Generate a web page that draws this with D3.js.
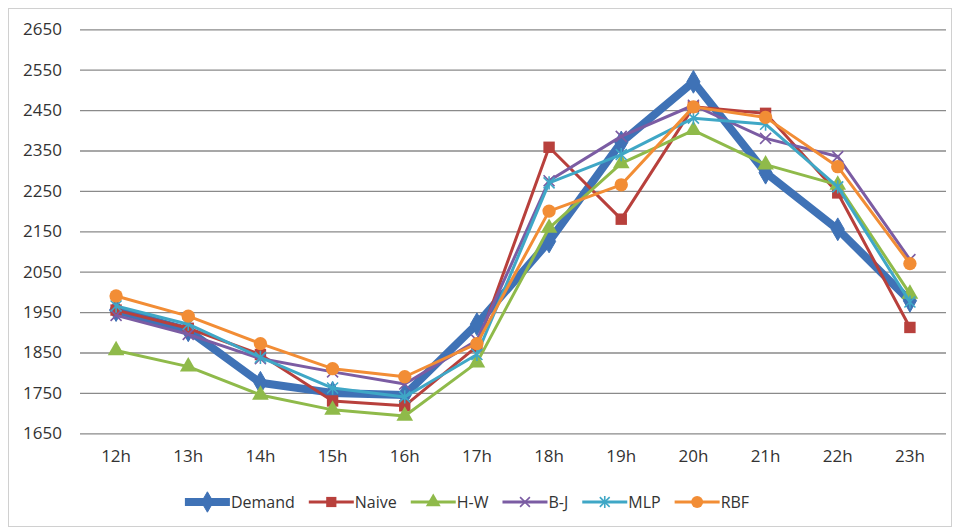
<!DOCTYPE html>
<html>
<head>
<meta charset="utf-8">
<script src="https://cdn.jsdelivr.net/npm/d3@7"></script>
<style>
  html, body { margin: 0; padding: 0; background: #fff; }
  svg { display: block; font-family: "Open Sans", "Noto Sans", sans-serif; }
</style>
</head>
<body>
<svg id="chart" width="956" height="530"></svg>
<script>
const categories = ["12h","13h","14h","15h","16h","17h","18h","19h","20h","21h","22h","23h"];
const yTicks = [1650,1750,1850,1950,2050,2150,2250,2350,2450,2550,2650];
const seriesNames = ["Demand","Naive","H-W","B-J","MLP","RBF"];
const demand = [1955,1905,1775,1750,1745,1920,2125,2370,2520,2295,2155,1978];
const naive  = [1955,1910,1845,1730,1718,1865,2358,2180,2458,2442,2245,1912];
const hw     = [1855,1815,1745,1708,1693,1825,2158,2318,2400,2315,2265,1995];
const bj     = [1942,1895,1835,1802,1772,1880,2275,2385,2462,2380,2335,2080];
const mlp    = [1965,1920,1838,1762,1740,1845,2270,2340,2430,2415,2260,1975];
const rbf    = [1990,1940,1872,1810,1790,1872,2200,2265,2458,2432,2310,2070];

const seriesValues = [demand, naive, hw, bj, mlp, rbf];
const colors = ["#3f72b6","#b8403c","#8fba4a","#7b5ca3","#3fa7c6","#f28d35"];
const widths = [8, 3, 3, 3, 3, 3];
const markers = ["diamond","square","triangle","x","asterisk","circle"];

const svg = d3.select("#chart");
const W = 956, H = 530;
const margin = {left: 80, right: 10, top: 29.3, bottom: 96.7};

// outer border
svg.append("rect").attr("x", 8.5).attr("y", 8.5).attr("width", 943).attr("height", 518)
  .attr("fill", "#fff").attr("stroke", "#d0d0d0").attr("stroke-width", 1);

const x = d3.scaleBand().domain(categories).range([80, 946]).paddingInner(0).paddingOuter(0);
const y = d3.scaleLinear().domain([1650, 2650]).range([433.3, 29.3]);

// gridlines + y labels
const yAxis = d3.axisLeft(y).tickValues(yTicks).tickSize(-(946 - 80)).tickPadding(18).tickFormat(d3.format("d"));
const gy = svg.append("g").attr("transform", "translate(80,0)").call(yAxis);
gy.select(".domain").remove();
gy.selectAll(".tick line").attr("stroke", "#8a8a8a").attr("stroke-width", 1.3);
gy.selectAll(".tick text").attr("fill", "#333").attr("font-size", 17).attr("font-family", "'Open Sans', sans-serif");

// x labels
const xAxis = d3.axisBottom(x).tickSize(0).tickPadding(17);
const gx = svg.append("g").attr("transform", "translate(0,433.3)").call(xAxis);
gx.select(".domain").remove();
gx.selectAll(".tick text").attr("fill", "#333").attr("font-size", 17).attr("font-family", "'Open Sans', sans-serif");

function drawMarker(g, type, color, cx, cy, scale) {
  const s = scale || 1;
  if (type === "diamond") {
    g.append("path").attr("d", d3.symbol(d3.symbolDiamond, 150 * s)())
      .attr("transform", `translate(${cx},${cy})`).attr("fill", color).attr("stroke", color).attr("stroke-width", 1);
  } else if (type === "square") {
    g.append("path").attr("d", d3.symbol(d3.symbolSquare, 130 * s)())
      .attr("transform", `translate(${cx},${cy})`).attr("fill", color);
  } else if (type === "triangle") {
    g.append("path").attr("d", d3.symbol(d3.symbolTriangle, 120 * s)())
      .attr("transform", `translate(${cx},${cy})`).attr("fill", color);
  } else if (type === "circle") {
    g.append("path").attr("d", d3.symbol(d3.symbolCircle, 140 * s)())
      .attr("transform", `translate(${cx},${cy})`).attr("fill", color);
  } else if (type === "x") {
    const r = 5.5 * Math.sqrt(s);
    g.append("path").attr("d", `M${-r},${-r}L${r},${r}M${-r},${r}L${r},${-r}`)
      .attr("transform", `translate(${cx},${cy})`).attr("stroke", color).attr("stroke-width", 1.6).attr("fill", "none");
  } else if (type === "asterisk") {
    const r = 5.5 * Math.sqrt(s);
    g.append("path").attr("d", `M${-r},${-r}L${r},${r}M${-r},${r}L${r},${-r}M0,${-r*1.2}L0,${r*1.2}`)
      .attr("transform", `translate(${cx},${cy})`).attr("stroke", color).attr("stroke-width", 1.6).attr("fill", "none");
  }
}

const line = d3.line().x((d, i) => x(categories[i]) + x.bandwidth() / 2).y(d => y(d));

seriesValues.forEach((vals, si) => {
  const g = svg.append("g");
  g.append("path").datum(vals).attr("d", line).attr("fill", "none")
    .attr("stroke", colors[si]).attr("stroke-width", widths[si])
    .attr("stroke-linejoin", "round").attr("stroke-linecap", "round");
  vals.forEach((v, i) => {
    drawMarker(g, markers[si], colors[si], x(categories[i]) + x.bandwidth() / 2, y(v));
  });
});

// legend
const legend = svg.append("g");
let lx = 0;
const ly = 502;
const items = [];
seriesNames.forEach((name, si) => {
  const g = legend.append("g");
  g.append("line").attr("x1", lx).attr("x2", lx + 45).attr("y1", ly).attr("y2", ly)
    .attr("stroke", colors[si]).attr("stroke-width", widths[si]);
  drawMarker(g, markers[si], colors[si], lx + 22.5, ly, 0.8);
  const t = g.append("text").attr("x", lx + 46).attr("y", ly).attr("dy", "0.35em")
    .attr("font-size", 16).attr("fill", "#333").text(name);
  const tw = t.node().getComputedTextLength();
  lx += 46 + tw + 14;
});
const total = lx - 14;
legend.attr("transform", `translate(${467 - total / 2},0)`);
</script>
</body>
</html>
